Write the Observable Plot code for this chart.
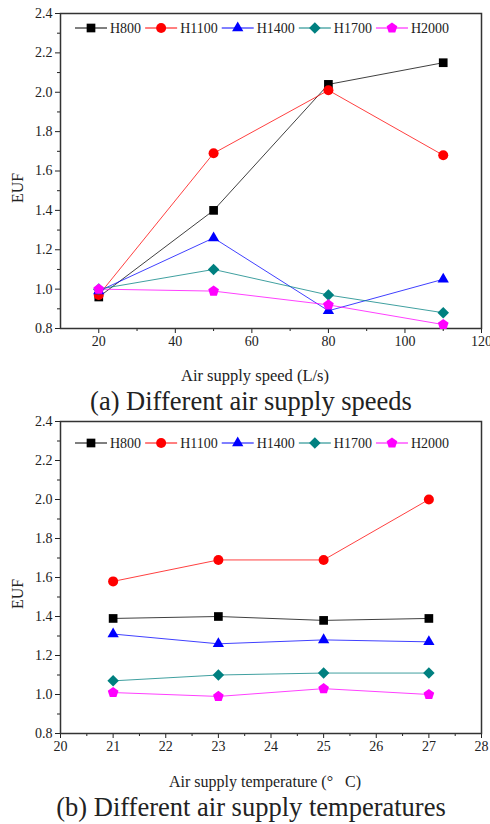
<!DOCTYPE html>
<html><head><meta charset="utf-8">
<script src="https://cdn.jsdelivr.net/npm/d3@7"></script>
<script src="https://cdn.jsdelivr.net/npm/@observablehq/plot@0.6"></script>
<style>
body{margin:0;background:#fff;font-family:"Liberation Serif","Times New Roman",serif;}
#root{position:relative;width:490px;height:824px;overflow:hidden;background:#fff;}
.abs{position:absolute;white-space:nowrap;color:#222;transform:translate(-50%,-50%);line-height:1;}
svg{overflow:visible;}
</style></head><body><div id="root"></div>
<script>
// ---- data ----
const seriesNames = ["H800","H1100","H1400","H1700","H2000"];
const seriesColors = ["#000000","#ff0000","#0000ff","#008080","#ff00ff"];

const speedX = [20, 50, 80, 110];
const speedH800  = [0.96, 1.40, 2.04, 2.15];
const speedH1100 = [0.97, 1.69, 2.01, 1.68];
const speedH1400 = [0.99, 1.26, 0.89, 1.05];
const speedH1700 = [1.00, 1.10, 0.97, 0.88];
const speedH2000 = [1.00, 0.99, 0.92, 0.82];

const tempX = [21, 23, 25, 27];
const tempH800  = [1.39, 1.40, 1.38, 1.39];
const tempH1100 = [1.58, 1.69, 1.69, 2.00];
const tempH1400 = [1.31, 1.26, 1.28, 1.27];
const tempH1700 = [1.07, 1.10, 1.11, 1.11];
const tempH2000 = [1.01, 0.99, 1.03, 1.00];

const speedTicks = [20, 40, 60, 80, 100, 120];
const speedMinor = [30, 50, 70, 90, 110];
const tempTicks = [20, 21, 22, 23, 24, 25, 26, 27, 28];
const tempMinor = [20.5, 21.5, 22.5, 23.5, 24.5, 25.5, 26.5, 27.5];
const eufTicks = [0.8, 1.0, 1.2, 1.4, 1.6, 1.8, 2.0, 2.2, 2.4];
const eufMinor = [0.9, 1.1, 1.3, 1.5, 1.7, 1.9, 2.1, 2.3];

// ---- symbols ----
const pentagon = {draw(ctx, size){
  const r = Math.sqrt(size / Math.PI) * 1.08;
  for (let k = 0; k < 5; k++) {
    const a = -Math.PI / 2 + k * 2 * Math.PI / 5;
    const x = r * Math.cos(a), y = r * Math.sin(a);
    if (k) ctx.lineTo(x, y); else ctx.moveTo(x, y);
  }
  ctx.closePath();
}};
const seriesSymbols = [d3.symbolSquare, d3.symbolCircle, d3.symbolTriangle, d3.symbolDiamond2, pentagon];
const symbolR = [4.9, 5, 4.2, 5.2, 5.2];
const FONT = '"Liberation Serif","Times New Roman",serif';

function rowsFor(xs, lists) {
  return seriesNames.flatMap((s, i) => xs.map((x, j) => ({series: s, x, y: lists[i][j]})));
}

function chart({rows, xDomain, xTicks, xMinor, height}) {
  const marks = [
    Plot.axisX({ticks: xTicks, tickSize: 5, tickPadding: 3, label: null, tickFormat: d => String(d)}),
    Plot.axisX({ticks: xMinor, tickSize: 3, label: null, tickFormat: () => ""}),
    Plot.axisY({ticks: eufTicks, tickSize: 5, tickPadding: 3, label: null, tickFormat: d => d.toFixed(1)}),
    Plot.axisY({ticks: eufMinor, tickSize: 3, label: null, tickFormat: () => ""}),
    Plot.frame({stroke: "#333", strokeWidth: 1.5})
  ];
  seriesNames.forEach((s, i) => {
    const d = rows.filter(r => r.series === s);
    marks.push(Plot.line(d, {x: "x", y: "y", stroke: seriesColors[i], strokeWidth: 1, strokeOpacity: 0.75}));
  });
  seriesNames.forEach((s, i) => {
    const d = rows.filter(r => r.series === s);
    marks.push(Plot.dot(d, {x: "x", y: "y", symbol: seriesSymbols[i], fill: seriesColors[i], r: symbolR[i]}));
  });
  return Plot.plot({
    width: 490, height,
    marginLeft: 60, marginRight: 9, marginTop: 13, marginBottom: 32,
    x: {domain: xDomain},
    y: {domain: [0.8, 2.4]},
    style: {fontFamily: FONT, fontSize: "14px", color: "#222", background: "transparent", overflow: "visible"},
    marks
  });
}

function legend(top) {
  const svg = d3.create("svg").attr("width", 490).attr("height", 20)
    .style("position", "absolute").style("left", "0px").style("top", (top - 10) + "px");
  root.appendChild(svg.node());
  let x = 75;
  seriesNames.forEach((s, i) => {
    const g = svg.append("g");
    g.append("line").attr("x1", x).attr("x2", x + 32).attr("y1", 10).attr("y2", 10)
      .attr("stroke", seriesColors[i]).attr("stroke-width", 1);
    g.append("path").attr("transform", `translate(${x + 16},10)`)
      .attr("d", d3.symbol(seriesSymbols[i], symbolR[i] * symbolR[i] * Math.PI)())
      .attr("fill", seriesColors[i]);
    const t = g.append("text").attr("x", x + 35).attr("y", 10).attr("dy", "0.35em")
      .attr("font-family", FONT).attr("font-size", 14).attr("fill", "#222").text(s);
    x = x + 35 + t.node().getComputedTextLength() + 4;
  });
}

function label(text, cx, cy, size, rotate) {
  const d = document.createElement("div");
  d.className = "abs";
  d.style.left = cx + "px"; d.style.top = cy + "px";
  d.style.fontSize = size + "px";
  if (rotate) d.style.transform = "translate(-50%,-50%) rotate(-90deg)";
  d.innerHTML = text;
  root.appendChild(d);
}

const root = document.getElementById("root");

const top1 = chart({rows: rowsFor(speedX, [speedH800, speedH1100, speedH1400, speedH1700, speedH2000]),
  xDomain: [10, 120], xTicks: speedTicks, xMinor: speedMinor, height: 360});
top1.style.position = "absolute"; top1.style.left = "0px"; top1.style.top = "0px";
root.appendChild(top1);

const bot = chart({rows: rowsFor(tempX, [tempH800, tempH1100, tempH1400, tempH1700, tempH2000]),
  xDomain: [20, 28], xTicks: tempTicks, xMinor: tempMinor, height: 357});
bot.style.position = "absolute"; bot.style.left = "0px"; bot.style.top = "408px";
root.appendChild(bot);

legend(28);
legend(443);

label("EUF", 18, 188, 16, true);
label("EUF", 18, 594, 16, true);
label("Air supply speed (L/s)", 255, 376, 16.5);
label("Air supply temperature (°&nbsp;&nbsp;&nbsp;C)", 265, 782, 16);
label("(a) Different air supply speeds", 251, 401, 26.5);
label("(b) Different air supply temperatures", 251, 807, 26.5);
</script>
</body></html>
